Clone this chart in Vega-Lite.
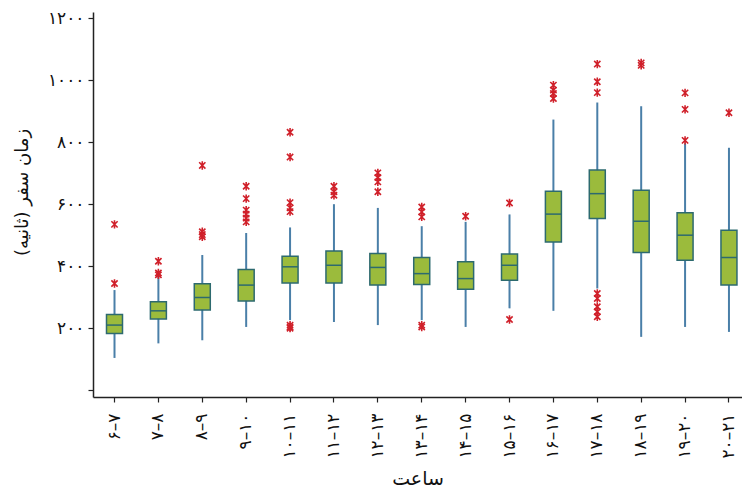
{
  "$schema": "https://vega.github.io/schema/vega-lite/v6.json",
  "width": 649,
  "height": 385,
  "autosize": {"type": "none"},
  "padding": {"left": 93, "top": 12, "right": 0, "bottom": 96},
  "config": {
    "view": {"stroke": null},
    "font": "DejaVu Sans",
    "axis": {"grid": false, "domainColor": "#222222", "tickColor": "#222222", "domainWidth": 1.5, "tickWidth": 1.2, "labelColor": "#111111", "titleColor": "#111111", "labelFont": "DejaVu Sans", "titleFont": "DejaVu Sans", "titleFontWeight": "normal"}
  },
  "datasets": {
    "boxes": [
      {"hour": "۶–۷", "lower": 104, "q1": 183, "median": 210, "q3": 244, "upper": 323},
      {"hour": "۷–۸", "lower": 151, "q1": 230, "median": 256, "q3": 285, "upper": 366},
      {"hour": "۸–۹", "lower": 161, "q1": 259, "median": 299, "q3": 343, "upper": 436},
      {"hour": "۹–۱۰", "lower": 204, "q1": 288, "median": 339, "q3": 389, "upper": 507},
      {"hour": "۱۰–۱۱", "lower": 226, "q1": 346, "median": 398, "q3": 432, "upper": 525},
      {"hour": "۱۱–۱۲", "lower": 220, "q1": 346, "median": 403, "q3": 449, "upper": 600},
      {"hour": "۱۲–۱۳", "lower": 210, "q1": 339, "median": 396, "q3": 441, "upper": 588},
      {"hour": "۱۳–۱۴", "lower": 226, "q1": 341, "median": 376, "q3": 428, "upper": 529},
      {"hour": "۱۴–۱۵", "lower": 204, "q1": 326, "median": 360, "q3": 414, "upper": 543},
      {"hour": "۱۵–۱۶", "lower": 264, "q1": 355, "median": 403, "q3": 439, "upper": 567},
      {"hour": "۱۶–۱۷", "lower": 256, "q1": 478, "median": 568, "q3": 642, "upper": 873},
      {"hour": "۱۷–۱۸", "lower": 328, "q1": 554, "median": 634, "q3": 710, "upper": 928},
      {"hour": "۱۸–۱۹", "lower": 172, "q1": 444, "median": 545, "q3": 645, "upper": 916},
      {"hour": "۱۹–۲۰", "lower": 204, "q1": 419, "median": 500, "q3": 572, "upper": 796},
      {"hour": "۲۰–۲۱", "lower": 188, "q1": 339, "median": 428, "q3": 516, "upper": 782}
    ],
    "outliers": [
      {"hour": "۶–۷", "value": 535}, {"hour": "۶–۷", "value": 344},
      {"hour": "۷–۸", "value": 416}, {"hour": "۷–۸", "value": 378}, {"hour": "۷–۸", "value": 372},
      {"hour": "۸–۹", "value": 725}, {"hour": "۸–۹", "value": 511}, {"hour": "۸–۹", "value": 502}, {"hour": "۸–۹", "value": 495},
      {"hour": "۹–۱۰", "value": 658}, {"hour": "۹–۱۰", "value": 618}, {"hour": "۹–۱۰", "value": 581}, {"hour": "۹–۱۰", "value": 568}, {"hour": "۹–۱۰", "value": 555}, {"hour": "۹–۱۰", "value": 543},
      {"hour": "۱۰–۱۱", "value": 832}, {"hour": "۱۰–۱۱", "value": 752}, {"hour": "۱۰–۱۱", "value": 605}, {"hour": "۱۰–۱۱", "value": 588}, {"hour": "۱۰–۱۱", "value": 576}, {"hour": "۱۰–۱۱", "value": 210}, {"hour": "۱۰–۱۱", "value": 204}, {"hour": "۱۰–۱۱", "value": 200},
      {"hour": "۱۱–۱۲", "value": 658}, {"hour": "۱۱–۱۲", "value": 640}, {"hour": "۱۱–۱۲", "value": 629},
      {"hour": "۱۲–۱۳", "value": 701}, {"hour": "۱۲–۱۳", "value": 686}, {"hour": "۱۲–۱۳", "value": 672}, {"hour": "۱۲–۱۳", "value": 640},
      {"hour": "۱۳–۱۴", "value": 591}, {"hour": "۱۳–۱۴", "value": 575}, {"hour": "۱۳–۱۴", "value": 559}, {"hour": "۱۳–۱۴", "value": 210}, {"hour": "۱۳–۱۴", "value": 204},
      {"hour": "۱۴–۱۵", "value": 561},
      {"hour": "۱۵–۱۶", "value": 604}, {"hour": "۱۵–۱۶", "value": 228},
      {"hour": "۱۶–۱۷", "value": 984}, {"hour": "۱۶–۱۷", "value": 968}, {"hour": "۱۶–۱۷", "value": 957}, {"hour": "۱۶–۱۷", "value": 941},
      {"hour": "۱۷–۱۸", "value": 1052}, {"hour": "۱۷–۱۸", "value": 995}, {"hour": "۱۷–۱۸", "value": 960}, {"hour": "۱۷–۱۸", "value": 312}, {"hour": "۱۷–۱۸", "value": 296}, {"hour": "۱۷–۱۸", "value": 269}, {"hour": "۱۷–۱۸", "value": 253}, {"hour": "۱۷–۱۸", "value": 237},
      {"hour": "۱۸–۱۹", "value": 1056}, {"hour": "۱۸–۱۹", "value": 1048},
      {"hour": "۱۹–۲۰", "value": 959}, {"hour": "۱۹–۲۰", "value": 906}, {"hour": "۱۹–۲۰", "value": 806},
      {"hour": "۲۰–۲۱", "value": 895}
    ]
  },
  "encoding": {
    "x": {
      "field": "hour",
      "type": "nominal",
      "scale": {
        "domain": ["۶–۷", "۷–۸", "۸–۹", "۹–۱۰", "۱۰–۱۱", "۱۱–۱۲", "۱۲–۱۳", "۱۳–۱۴", "۱۴–۱۵", "۱۵–۱۶", "۱۶–۱۷", "۱۷–۱۸", "۱۸–۱۹", "۱۹–۲۰", "۲۰–۲۱"],
        "paddingInner": 0.5,
        "paddingOuter": 0.1435,
        "align": 0.836
      },
      "axis": {
        "title": "ساعت",
        "titleFontSize": 19,
        "titleY": 81,
        "titleBaseline": "middle",
        "labelAngle": 270,
        "labelFontSize": 17,
        "labelPadding": 11,
        "tickSize": 5
      }
    }
  },
  "layer": [
    {
      "data": {"name": "boxes"},
      "mark": {"type": "rule", "color": "#4a7fa8", "strokeWidth": 2},
      "encoding": {
        "y": {
          "field": "lower",
          "type": "quantitative",
          "scale": {"domain": [-22, 1220], "nice": false, "zero": false},
          "axis": {
            "title": "زمان سفر (ثانیه)",
            "titleFontSize": 18,
            "titleX": -71,
            "titleY": 180,
            "titleAlign": "center",
            "titleBaseline": "middle",
            "values": [0, 200, 400, 600, 800, 1000, 1200],
            "labelExpr": "datum.value == 200 ? '۲۰۰' : datum.value == 400 ? '۴۰۰' : datum.value == 600 ? '۶۰۰' : datum.value == 800 ? '۸۰۰' : datum.value == 1000 ? '۱۰۰۰' : datum.value == 1200 ? '۱۲۰۰' : ''",
            "labelFontSize": 17,
            "labelPadding": 4,
            "tickSize": 5
          }
        },
        "y2": {"field": "upper"}
      }
    },
    {
      "data": {"name": "boxes"},
      "mark": {"type": "bar", "size": 16, "fill": "#9bbb3c", "stroke": "#2d6a6f", "strokeWidth": 1.5},
      "encoding": {
        "y": {"field": "q1", "type": "quantitative"},
        "y2": {"field": "q3"}
      }
    },
    {
      "data": {"name": "boxes"},
      "mark": {"type": "tick", "size": 16, "thickness": 1.5, "color": "#2d6a6f", "opacity": 1},
      "encoding": {
        "y": {"field": "median", "type": "quantitative"}
      }
    },
    {
      "data": {"name": "outliers"},
      "mark": {"type": "point", "shape": "M-0.75,-0.75L0.75,0.75M-0.75,0.75L0.75,-0.75M0,-1L0,1", "size": 70, "filled": false, "stroke": "#d0202a", "strokeWidth": 1.6, "opacity": 1},
      "encoding": {
        "y": {"field": "value", "type": "quantitative"}
      }
    }
  ]
}
